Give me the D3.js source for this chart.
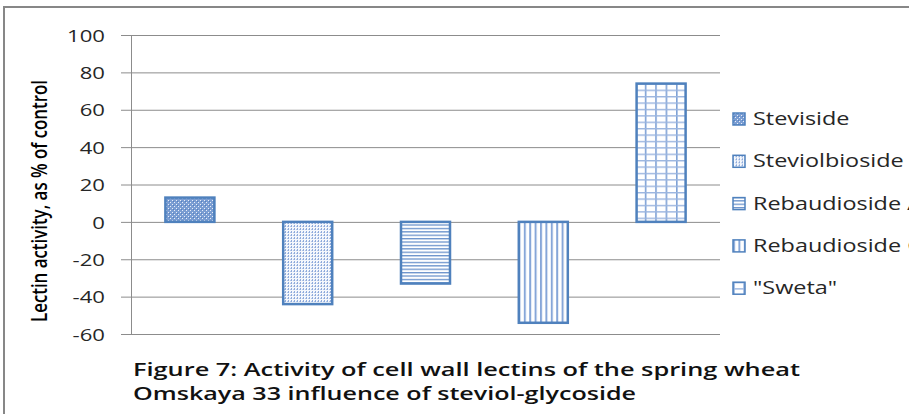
<!DOCTYPE html>
<html>
<head>
<meta charset="utf-8">
<script src="https://cdn.jsdelivr.net/npm/d3@7/dist/d3.min.js"></script>
<style>
  body { margin: 0; background: #fff; }
  svg { display: block; }
</style>
</head>
<body>
<div id="chart"></div>
<script>
// data
var seriesNames = ['Steviside', 'Steviolbioside', 'Rebaudioside A', 'Rebaudioside C', '"Sweta"'];
var seriesValues = [13, -44, -33, -54, 74];
var yTicks = [-60, -40, -20, 0, 20, 40, 60, 80, 100];
var titleLines = ['Figure 7: Activity of cell wall lectins of the spring wheat',
                  'Omskaya 33 influence of steviol-glycoside'];
var yTitle = 'Lectin activity, as % of control';

var width = 909, height = 414;
var blue = '#4f81bd';
var stretch = 1.3; // the source image is stretched sideways

var margin = { top: 35, left: 131, right: 189, bottom: 81 };

var svg = d3.select('#chart').append('svg')
    .attr('width', width)
    .attr('height', height);

// fill patterns, one per series
var defs = svg.append('defs');
var patternIds = ['p-confetti', 'p-dotvert', 'p-horiz', 'p-vert', 'p-grid'];

var p0 = defs.append('pattern').attr('id', patternIds[0])
    .attr('patternUnits', 'userSpaceOnUse').attr('width', 4).attr('height', 4);
p0.append('rect').attr('width', 4).attr('height', 4).attr('fill', '#7a9dd2');
p0.append('rect').attr('x', 0).attr('y', 0).attr('width', 1).attr('height', 1).attr('fill', '#e8eef8');
p0.append('rect').attr('x', 2).attr('y', 2).attr('width', 1).attr('height', 1).attr('fill', '#e8eef8');
p0.append('rect').attr('x', 1).attr('y', 1).attr('width', 1).attr('height', 1).attr('fill', '#5580bf');

var p1 = defs.append('pattern').attr('id', patternIds[1])
    .attr('patternUnits', 'userSpaceOnUse').attr('width', 3).attr('height', 3);
p1.append('rect').attr('width', 3).attr('height', 3).attr('fill', '#f4f7fc');
p1.append('rect').attr('x', 0).attr('y', 0).attr('width', 1).attr('height', 2).attr('fill', '#8eaadb');
p1.append('rect').attr('x', 2).attr('y', 1).attr('width', 1).attr('height', 1).attr('fill', '#b4c7e7');

var p2 = defs.append('pattern').attr('id', patternIds[2])
    .attr('patternUnits', 'userSpaceOnUse').attr('width', 4).attr('height', 3.4);
p2.append('rect').attr('width', 4).attr('height', 3.4).attr('fill', '#fff');
p2.append('rect').attr('y', 0).attr('width', 4).attr('height', 1.3).attr('fill', '#6a92cb');

var p3 = defs.append('pattern').attr('id', patternIds[3])
    .attr('patternUnits', 'userSpaceOnUse').attr('width', 5.4).attr('height', 4);
p3.append('rect').attr('width', 5.4).attr('height', 4).attr('fill', '#fff');
p3.append('rect').attr('x', 0).attr('width', 2).attr('height', 4).attr('fill', '#86a6d8');

var p4 = defs.append('pattern').attr('id', patternIds[4])
    .attr('patternUnits', 'userSpaceOnUse').attr('width', 10.4).attr('height', 6.4);
p4.append('rect').attr('width', 10.4).attr('height', 6.4).attr('fill', '#fff');
p4.append('rect').attr('x', 0).attr('width', 1.6).attr('height', 6.4).attr('fill', '#7ea1d6');
p4.append('rect').attr('y', 0).attr('width', 10.4).attr('height', 1.4).attr('fill', '#9bb5df');

// outer frame (only top and left edges are visible)
svg.append('path')
    .attr('d', 'M4,' + height + 'V7H' + width)
    .attr('fill', 'none')
    .attr('stroke', '#878787')
    .attr('stroke-width', 2);

var plotRight = width - margin.right;
var plotBottom = height - margin.bottom;

var xScale = d3.scaleBand()
    .domain(seriesNames)
    .range([margin.left, plotRight])
    .paddingInner(0.584)
    .paddingOuter(0.292);

var yScale = d3.scaleLinear()
    .domain([-60, 100])
    .range([plotBottom + 1, margin.top]);

// gridlines + tick labels
var yAxis = d3.axisLeft(yScale)
    .tickValues(yTicks)
    .tickSizeInner(-(plotRight - margin.left))
    .tickSizeOuter(0)
    .tickPadding(0)
    .tickFormat(function(d) { return String(d); });

var axisG = svg.append('g')
    .attr('transform', 'translate(' + margin.left + ',0)')
    .call(yAxis);
axisG.select('.domain').remove();
axisG.selectAll('.tick line')
    .attr('stroke', '#8c8c8c')
    .attr('x1', -10);
axisG.selectAll('.tick text')
    .attr('x', -(margin.left - 105))
    .attr('dy', '0.36em')
    .attr('fill', '#262626')
    .style('font-family', '"Open Sans", sans-serif')
    .style('font-size', '17px');

// vertical axis line
svg.append('line')
    .attr('x1', margin.left + 0.5).attr('x2', margin.left + 0.5)
    .attr('y1', yScale(100)).attr('y2', yScale(-60))
    .attr('stroke', '#8c8c8c');

// bars
svg.append('g').selectAll('rect')
    .data(seriesValues)
    .join('rect')
    .attr('x', function(d, i) { return xScale(seriesNames[i]); })
    .attr('y', function(d) { return yScale(Math.max(0, d)); })
    .attr('width', xScale.bandwidth())
    .attr('height', function(d) { return Math.abs(yScale(d) - yScale(0)); })
    .attr('fill', function(d, i) { return 'url(#' + patternIds[i] + ')'; })
    .attr('stroke', blue)
    .attr('stroke-width', 2.5);

// legend
var legend = svg.append('g').selectAll('g')
    .data(seriesNames)
    .join('g')
    .attr('transform', function(d, i) { return 'translate(733,' + (119 + i * 42.3) + ')'; });
legend.append('rect')
    .attr('x', 0).attr('y', -6)
    .attr('width', 12).attr('height', 12)
    .attr('fill', function(d, i) { return 'url(#' + patternIds[i] + ')'; })
    .attr('stroke', blue)
    .attr('stroke-width', 1.5);
legend.append('text')
    .attr('x', 20)
    .attr('y', 6)
    .attr('fill', '#262626')
    .style('font-family', '"Open Sans", sans-serif')
    .style('font-size', '18px')
    .text(function(d) { return d; });

// y axis title
svg.append('g')
    .attr('transform', 'translate(47,201) scale(' + stretch + ',1) rotate(-90)')
    .append('text')
    .attr('text-anchor', 'middle')
    .attr('fill', '#000')
    .style('font-family', '"Liberation Sans Narrow", "Open Sans", sans-serif')
    .style('font-weight', '600')
    .style('font-size', '17px')
    .attr('textLength', 242)
    .attr('lengthAdjust', 'spacingAndGlyphs')
    .text(yTitle);

// figure caption
var titleWidths = [667, 503];
svg.append('g').selectAll('text')
    .data(titleLines)
    .join('text')
    .attr('x', 133)
    .attr('y', function(d, i) { return 376 + i * 24; })
    .attr('fill', '#111')
    .style('font-family', '"Open Sans", sans-serif')
    .style('font-weight', '600')
    .style('font-size', '18.5px')
    .attr('textLength', function(d, i) { return titleWidths[i]; })
    .attr('lengthAdjust', 'spacingAndGlyphs')
    .text(function(d) { return d; });

// widen the remaining text to match the stretched source
function widen(sel) {
    sel.each(function() {
        var len = this.getComputedTextLength();
        d3.select(this)
            .attr('textLength', len * stretch)
            .attr('lengthAdjust', 'spacingAndGlyphs');
    });
}
widen(axisG.selectAll('.tick text'));
widen(legend.selectAll('text'));
</script>
</body>
</html>
